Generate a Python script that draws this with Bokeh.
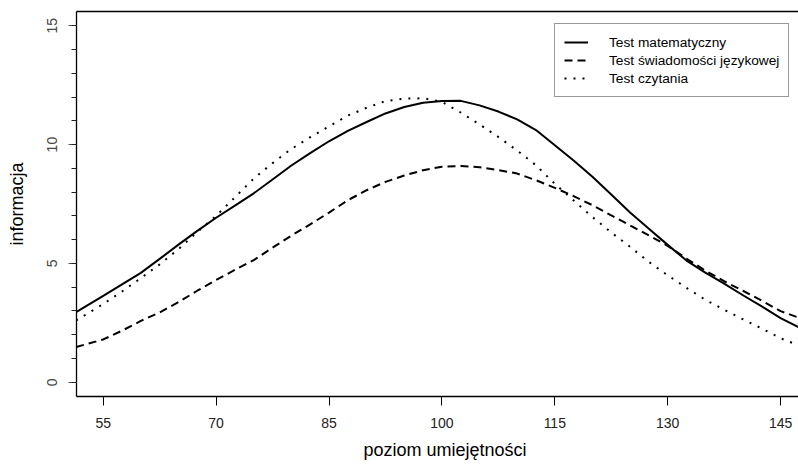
from bokeh.plotting import figure
from bokeh.models import (Range1d, FixedTicker, SingleIntervalTicker, LinearAxis,
                          Legend, LegendItem, Title, ColumnDataSource)
from bokeh.embed import file_html
from bokeh.resources import INLINE

# ---- data ----
ability = [51.4, 55, 57.5, 60, 62.5, 65, 67.5, 70, 72.5, 75, 77.5, 80, 82.5, 85, 87.5,
           90, 92.5, 95, 97.5, 100, 102.5, 105, 107.5, 110, 112.5, 115, 117.5, 120,
           122.5, 125, 127.5, 130, 132.5, 135, 137.5, 140, 142.5, 145, 147.4]
info_math = [2.95, 3.63, 4.12, 4.60, 5.19, 5.79, 6.37, 6.92, 7.43, 7.95, 8.53, 9.12, 9.64,
             10.14, 10.58, 10.95, 11.31, 11.58, 11.76, 11.83, 11.84, 11.65, 11.39, 11.06,
             10.61, 9.97, 9.33, 8.65, 7.90, 7.14, 6.46, 5.78, 5.12, 4.61, 4.15, 3.66, 3.19,
             2.70, 2.32]
info_lang = [1.48, 1.80, 2.17, 2.58, 2.94, 3.37, 3.85, 4.30, 4.73, 5.14, 5.66, 6.17, 6.64,
             7.14, 7.66, 8.08, 8.43, 8.70, 8.92, 9.07, 9.10, 9.05, 8.93, 8.78, 8.50, 8.18,
             7.83, 7.45, 7.02, 6.60, 6.18, 5.74, 5.20, 4.70, 4.25, 3.85, 3.43, 2.99, 2.72]
info_read = [2.60, 3.29, 3.82, 4.38, 4.96, 5.60, 6.32, 7.00, 7.78, 8.57, 9.22, 9.82, 10.31,
             10.77, 11.22, 11.55, 11.83, 11.93, 11.95, 11.80, 11.35, 10.85, 10.32, 9.75,
             9.13, 8.35, 7.65, 6.95, 6.30, 5.70, 5.06, 4.50, 3.97, 3.47, 3.05, 2.65, 2.26,
             1.85, 1.55]
series_names = ["Test matematyczny", "Test świadomości językowej", "Test czytania"]
x_ticks = [55, 70, 85, 100, 115, 130, 145]
x_title = "poziom umiejętności"
y_title = "informacja"

FONT = "Liberation Sans"

src = ColumnDataSource(dict(x=ability, math=info_math, lang=info_lang, read=info_read))

p = figure(width=798, height=466, output_backend="svg", toolbar_location=None,
           x_range=Range1d(51.45, 147.38), y_range=Range1d(-0.6, 15.6),
           min_border_left=76, min_border_right=0, min_border_top=11, min_border_bottom=70,
           background_fill_color="white", border_fill_color="white")
p.grid.visible = False
p.outline_line_color = None

# x axis
xa = p.xaxis[0]
xa.ticker = FixedTicker(ticks=x_ticks, minor_ticks=[])
xa.axis_line_color = "black"
xa.axis_line_width = 1.3
xa.major_tick_line_color = "black"
xa.major_tick_out = 9
xa.major_tick_in = 0
xa.minor_tick_out = 0
xa.major_label_text_font = FONT
xa.major_label_text_font_size = "14px"
xa.major_label_text_color = "#222222"
xa.major_label_standoff = 12

# y axis
ya = p.yaxis[0]
ya.ticker = SingleIntervalTicker(interval=5, num_minor_ticks=5)
ya.axis_line_color = "black"
ya.axis_line_width = 1.3
ya.major_tick_line_color = "#555555"
ya.minor_tick_line_color = "#222222"
ya.major_tick_out = 8
ya.major_tick_in = 0
ya.minor_tick_out = 5
ya.minor_tick_in = 0
ya.major_label_orientation = "vertical"
ya.major_label_text_font = FONT
ya.major_label_text_font_size = "14px"
ya.major_label_text_color = "#444444"
ya.major_label_standoff = 11
ya.axis_label = y_title
ya.axis_label_text_font = FONT
ya.axis_label_text_font_size = "18px"
ya.axis_label_text_font_style = "normal"
ya.axis_label_text_color = "black"
ya.axis_label_standoff = 18

# top frame line
top = LinearAxis(ticker=FixedTicker(ticks=[]), major_tick_out=0, major_tick_in=0,
                 minor_tick_out=0, minor_tick_in=0, major_label_text_font_size="0px",
                 axis_line_color="black", axis_line_width=1.3)
p.add_layout(top, "above")

# x title
t = Title(text=x_title, align="left", offset=287, vertical_align="bottom", text_font=FONT,
          text_font_size="18px", text_font_style="normal", text_color="black", standoff=14)
p.add_layout(t, "below")

r1 = p.line("x", "math", source=src, line_color="black", line_width=2, line_join="round")
r2 = p.line("x", "lang", source=src, line_color="black", line_width=2, line_dash="8 5")
r3 = p.line("x", "read", source=src, line_color="black", line_width=2, line_dash="2 7")

legend = Legend(items=[LegendItem(label=series_names[0], renderers=[r1]),
                       LegendItem(label=series_names[1], renderers=[r2]),
                       LegendItem(label=series_names[2], renderers=[r3])],
                location=(478, 299), margin=0, padding=9, spacing=0,
                label_height=18, glyph_height=18, glyph_width=24, label_standoff=21,
                label_text_font=FONT, label_text_font_size="13.7px", label_text_color="black",
                border_line_color="#333333", border_line_width=1,
                background_fill_color="white", background_fill_alpha=1)
p.add_layout(legend)

open("out.html", "w").write(file_html(p, INLINE))
